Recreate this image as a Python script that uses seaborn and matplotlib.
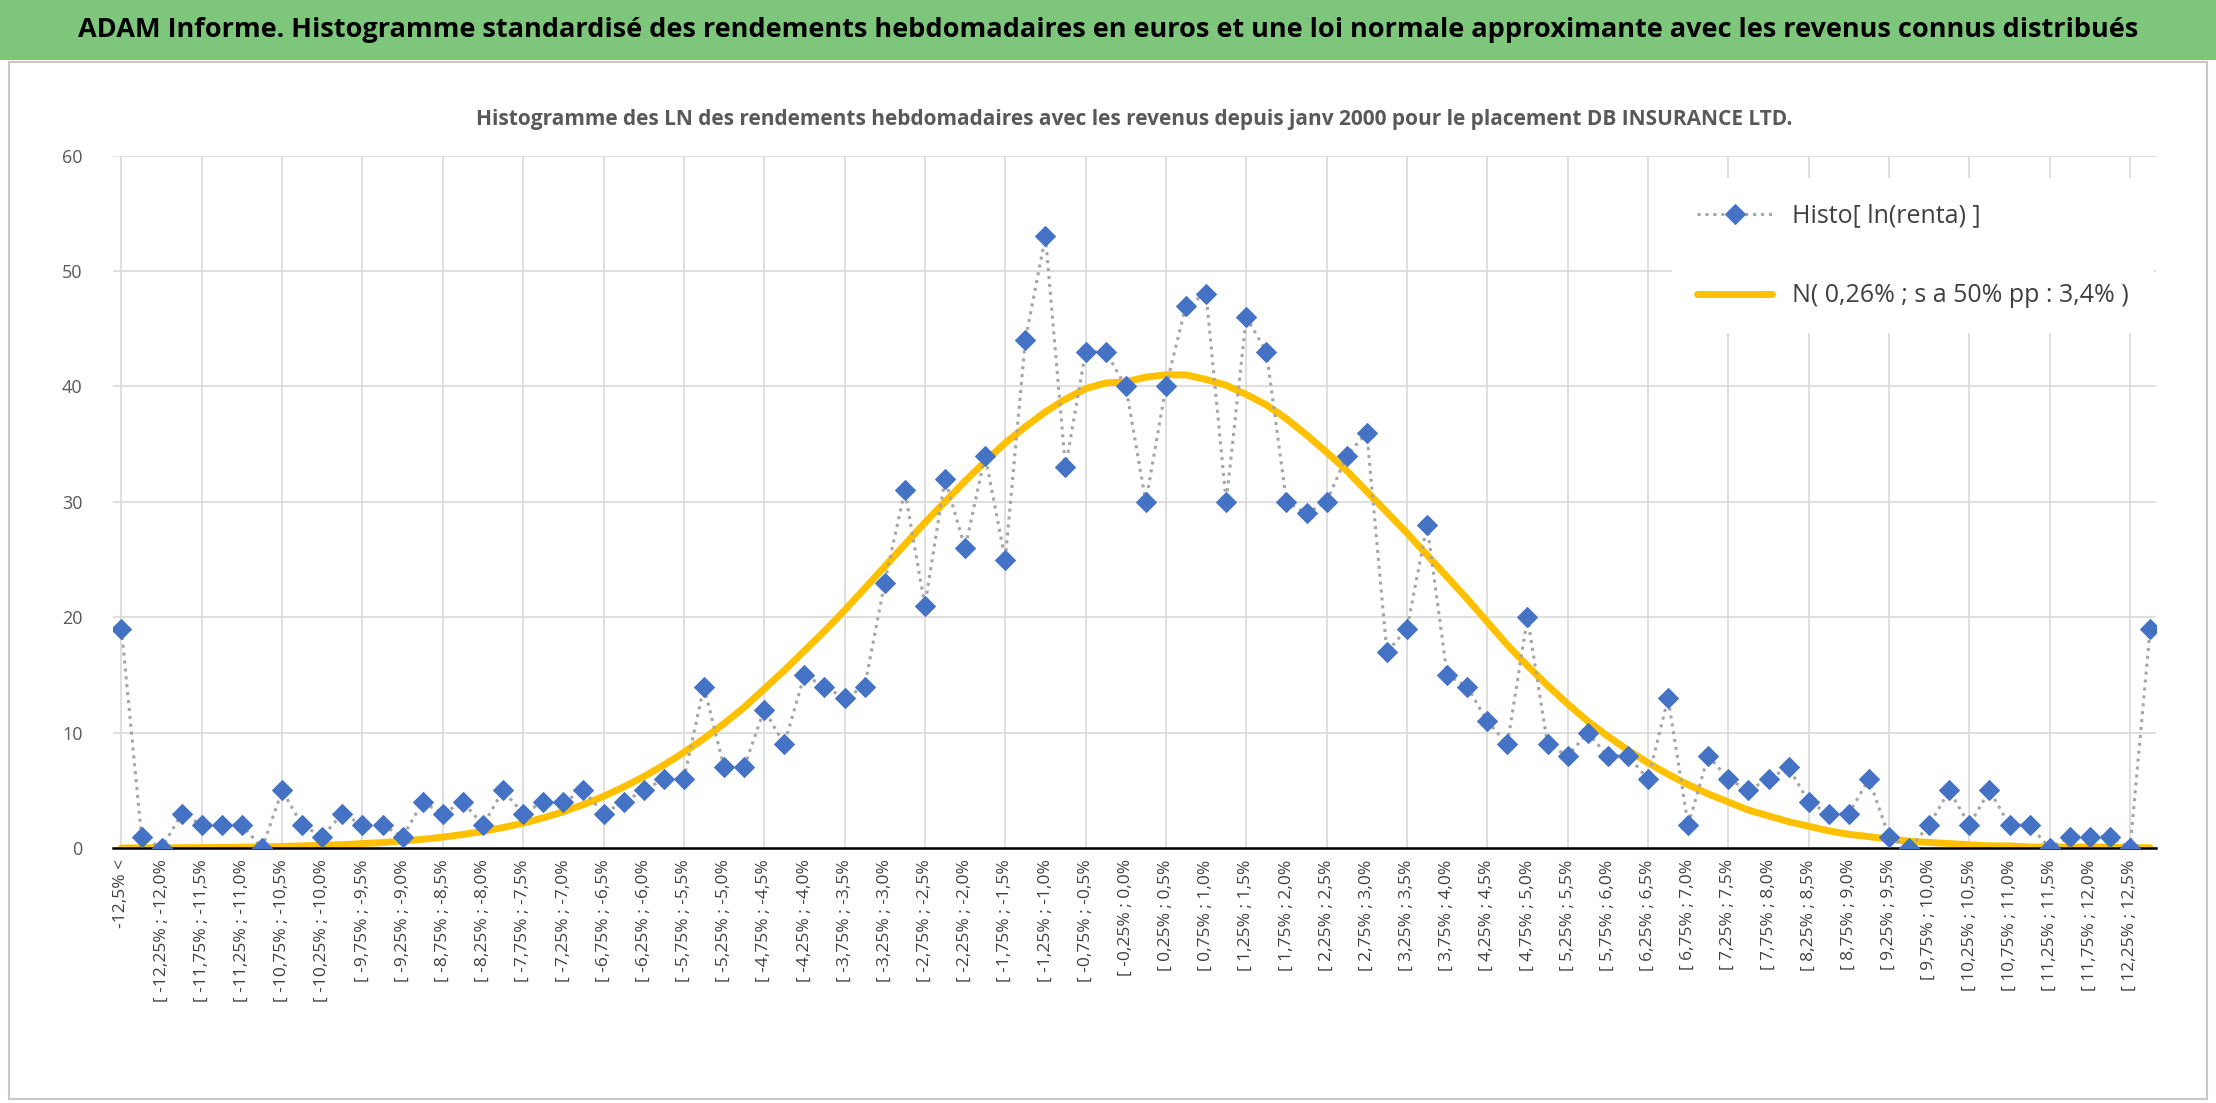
import matplotlib
matplotlib.use("Agg")
import matplotlib.pyplot as plt
import seaborn as sns
import numpy as np
import pandas as pd
from matplotlib.patches import Rectangle

# --- data ---
histo = [19, 1, 0, 3, 2, 2, 2, 0, 5, 2, 1, 3, 2, 2, 1, 4, 3, 4, 2, 5,
         3, 4, 4, 5, 3, 4, 5, 6, 6, 14, 7, 7, 12, 9, 15, 14, 13, 14, 23, 31,
         21, 32, 26, 34, 25, 44, 53, 33, 43, 43, 40, 30, 40, 47, 48, 30, 46, 43, 30, 29,
         30, 34, 36, 17, 19, 28, 15, 14, 11, 9, 20, 9, 8, 10, 8, 8, 6, 13, 2, 8,
         6, 5, 6, 7, 4, 3, 3, 6, 1, 0, 2, 5, 2, 5, 2, 2, 0, 1, 1, 1,
         0, 19]
normal = [0.02, 0.03, 0.03, 0.04, 0.05, 0.07, 0.09, 0.12, 0.15, 0.2,
          0.25, 0.31, 0.4, 0.49, 0.62, 0.77, 0.96, 1.19, 1.46, 1.79,
          2.17, 2.63, 3.16, 3.78, 4.49, 5.3, 6.2, 7.2, 8.3, 9.5,
          10.8, 12.2, 13.8, 15.4, 17.1, 18.8, 20.6, 22.5, 24.4, 26.3,
          28.2, 30.0, 31.8, 33.5, 35.1, 36.5, 37.8, 38.9, 39.8, 40.3,
          40.4, 40.8, 41.0, 41.0, 40.6, 40.1, 39.3, 38.4, 37.2, 35.8,
          34.3, 32.7, 30.9, 29.1, 27.3, 25.4, 23.5, 21.6, 19.6, 17.6,
          15.8, 14.1, 12.5, 11.0, 9.7, 8.5, 7.4, 6.4, 5.5, 4.7,
          4.0, 3.3, 2.8, 2.3, 1.9, 1.5, 1.2, 1.0, 0.8, 0.6,
          0.5, 0.4, 0.3, 0.2, 0.2, 0.1, 0.1, 0.1, 0.1, 0.1,
          0.05, 0.04]


def pct(v):
    s = f"{v:.2f}"
    if s.endswith("0"):
        s = s[:-1]
    return s.replace(".", ",").replace("-0,0", "0,0") + "%"


edges = [-12.5 + 0.25 * k for k in range(101)]
categories = ["-12,5% <"] + [f"[ {pct(edges[k])} ; {pct(edges[k + 1])}" for k in range(100)] + ["12,5% >"]
tick_labels = [c if i % 2 == 0 and i < 101 else "" for i, c in enumerate(categories)]

df = pd.DataFrame({"idx": np.arange(len(categories)), "histo": histo, "normal": normal})

sns.set_style("white")
plt.rcParams["font.family"] = ["Open Sans", "DejaVu Sans"]

fig = plt.figure(figsize=(22.16, 11.03), dpi=100)

# header band
fig.patches.append(Rectangle((0, 0.946), 1, 0.054, transform=fig.transFigure,
                             facecolor="#7dc67b", edgecolor="none", zorder=0))
fig.text(0.5, 0.973, "ADAM Informe. Histogramme standardisé des rendements hebdomadaires en euros "
         "et une loi normale approximante avec les revenus connus distribués",
         ha="center", va="center", fontsize=19.5, fontweight="bold", color="black")
fig.patches.append(Rectangle((0.004, 0.004), 0.992, 0.94, transform=fig.transFigure,
                             facecolor="none", edgecolor="#c8c8c8", lw=1.5))

ax = fig.add_axes([0.051, 0.231, 0.922, 0.628])

for i in range(0, len(categories), 4):
    ax.axvline(i, color="#d9d9d9", lw=1.2, zorder=0)
ax.yaxis.grid(True, color="#d9d9d9", lw=1.2)
ax.set_axisbelow(True)

sns.lineplot(data=df, x="idx", y="histo", ax=ax, color="#a5a5a5", lw=2.2,
             linestyle=(0, (1, 1.6)), marker="D", markersize=10,
             markerfacecolor="#4472c4", markeredgecolor="#4472c4",
             label="Histo[ ln(renta) ]", zorder=3)
sns.lineplot(data=df, x="idx", y="normal", ax=ax, color="#ffc000", lw=5,
             label="N( 0,26% ; s a 50% pp : 3,4% )", zorder=2)

ax.set_xlim(-0.42, 101.3)
ax.set_ylim(0, 60)
ax.set_yticks(range(0, 61, 10))
ax.tick_params(axis="y", labelsize=13, colors="#595959", length=0, pad=22)
ax.set_xticks(df["idx"])
ax.set_xticklabels(tick_labels, rotation=90, fontsize=12.5, color="#404040")
ax.tick_params(axis="x", length=0, pad=8)
ax.set_xlabel("")
ax.set_ylabel("")
for s in ["top", "right", "left"]:
    ax.spines[s].set_visible(False)
ax.spines["bottom"].set_color("black")
ax.spines["bottom"].set_linewidth(1.8)

ax.set_title("Histogramme des LN des rendements hebdomadaires avec les revenus depuis janv 2000 "
             "pour le placement DB INSURANCE LTD.", fontsize=15, fontweight="bold",
             color="#595959", pad=22)

leg = ax.legend(loc="upper right", bbox_to_anchor=(1.005, 0.985), fontsize=18,
                frameon=True, labelspacing=2.2, handlelength=3, borderpad=1.0)
leg.get_frame().set_facecolor("white")
leg.get_frame().set_edgecolor("none")
leg.get_frame().set_alpha(1)
for t in leg.get_texts():
    t.set_color("#404040")

fig.savefig("out.png", dpi=100)
